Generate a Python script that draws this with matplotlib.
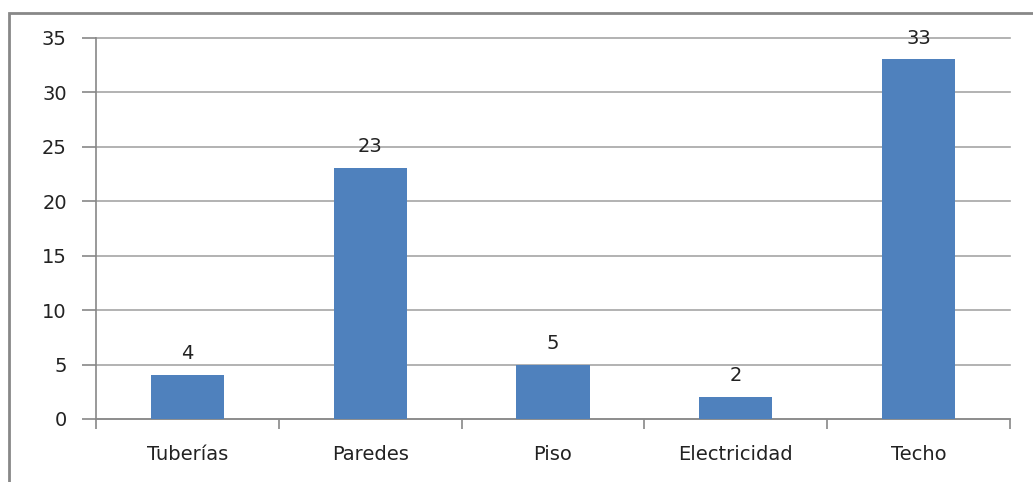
import matplotlib.pyplot as plt
from matplotlib.patches import Rectangle

# Data
categorias = ['Tuberías', 'Paredes', 'Piso', 'Electricidad', 'Techo']
valores = [4, 23, 5, 2, 33]
yticks = [0, 5, 10, 15, 20, 25, 30, 35]

W, H = 1033, 482
fig = plt.figure(figsize=(W / 100, H / 100), dpi=100)
fig.patch.set_facecolor('white')

# outer chart border (only left and top visible)
fig.patches.append(Rectangle((9 / W, -0.1), 1.2, (H - 13) / H + 0.1,
                             transform=fig.transFigure, fill=False,
                             edgecolor='#888888', linewidth=2))

ax = fig.add_axes([96 / W, 1 - 419 / H, (1010 - 96) / W, (419 - 37.7) / H])
x = range(len(categorias))
bars = ax.bar(x, valores, width=0.4, color='#4F81BD', zorder=3)

for xi, v in zip(x, valores):
    ax.text(xi, v + 1.1, str(v), ha='center', va='bottom', fontsize=14,
            color='#222222')

ax.set_xlim(-0.5, len(categorias) - 0.5)
ax.set_ylim(0, 35)
ax.set_yticks(yticks)
ax.set_yticklabels([str(t) for t in yticks], fontsize=14, color='#222222')
ax.yaxis.grid(True, color='#A6A6A6', linewidth=1.2, zorder=0)
for gl in ax.get_ygridlines():
    gl.set_clip_on(False)

ax.set_xticks(list(x))
ax.set_xticklabels(categorias, fontsize=14, color='#222222')
ax.set_xticks([i - 0.5 for i in range(len(categorias) + 1)], minor=True)
ax.tick_params(axis='x', which='major', length=0, pad=19)
ax.tick_params(axis='x', which='minor', length=7, color='#888888', width=1.2)
ax.tick_params(axis='y', length=10, color='#888888', width=1.2, pad=11)

for s in ['top', 'right']:
    ax.spines[s].set_visible(False)
for s in ['left', 'bottom']:
    ax.spines[s].set_color('#888888')
    ax.spines[s].set_linewidth(1.2)

fig.savefig('out.png', dpi=100)
